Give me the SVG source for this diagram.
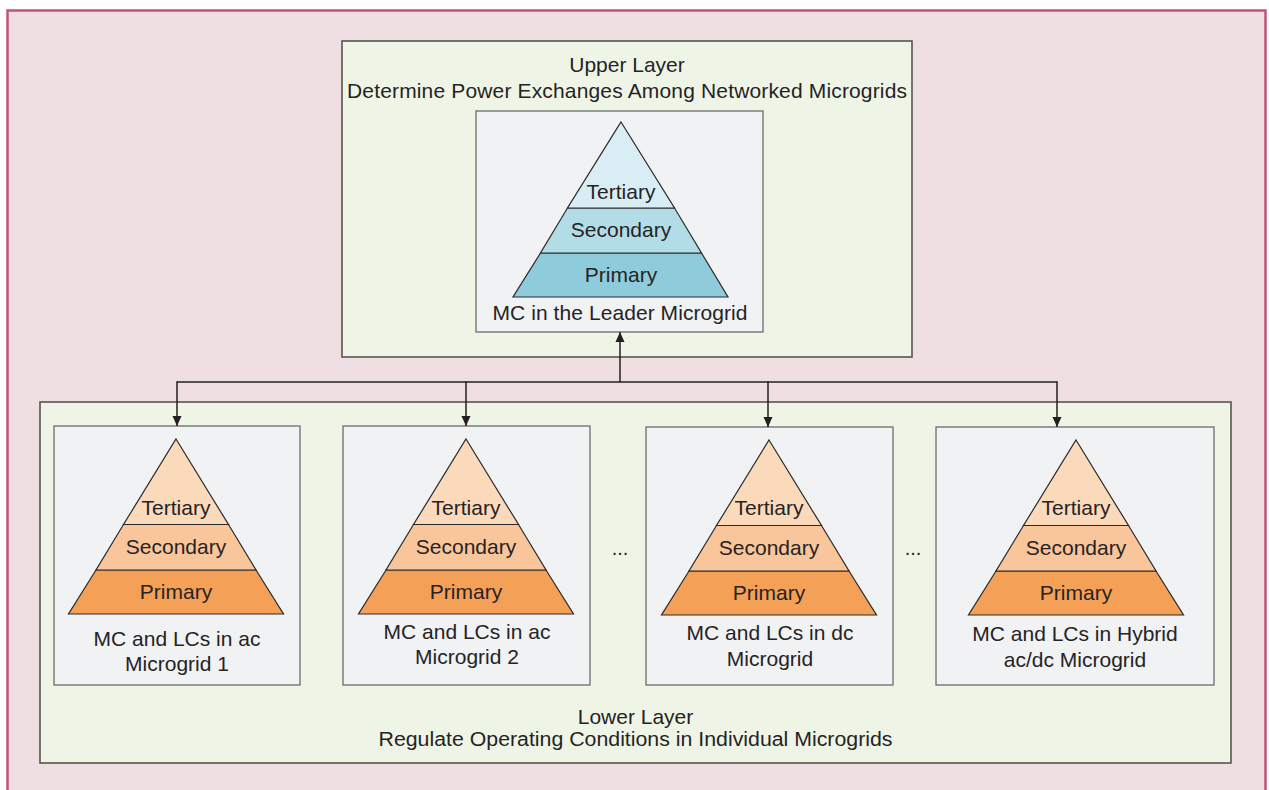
<svg xmlns="http://www.w3.org/2000/svg" width="1269" height="790" viewBox="0 0 1269 790">
  <defs>
    <style>
      .frame { fill: #efdfe3; stroke: #c4537c; stroke-width: 2.5; }
      .layer { fill: #eff5e6; stroke: #58544f; stroke-width: 1.6; }
      .card { fill: #f1f2f4; stroke: #6b6b6b; stroke-width: 1.3; }
      .tier { stroke: #2a2a2a; stroke-width: 1.2; stroke-linejoin: miter; }
      .t3b { fill: #d8eef4; } .t2b { fill: #b2dde7; } .t1b { fill: #8ecbdb; }
      .t3o { fill: #fbd9bb; } .t2o { fill: #f9c59b; } .t1o { fill: #f4a057; }
      text { font-family: "Liberation Sans", Arial, sans-serif; fill: #262324; text-anchor: middle; }
      .big { font-size: 21px; }
      .lbl { font-size: 21px; }
      .low { font-size: 20px; }
      .wire { fill: none; stroke: #231f20; stroke-width: 1.5; }
    </style>
    <marker id="arrow" viewBox="0 0 10 14" refX="10" refY="7" markerWidth="11" markerHeight="14" markerUnits="userSpaceOnUse" orient="auto">
      <path d="M0,2.5 L10,7 L0,11.5 Z" fill="#231f20"/>
    </marker>
    <!-- pyramid outline: apex at (0,0), base 175 below, half-width 107.5 -->
    <g id="pyrOrange">
      <polygon class="tier t1o" points="-80,131 80,131 107.5,175 -107.5,175"/>
      <polygon class="tier t2o" points="-52.5,85.5 52.5,85.5 80,131 -80,131"/>
      <polygon class="tier t3o" points="0,0 52.5,85.5 -52.5,85.5"/>
    </g>
  </defs>

  <!-- outer frame -->
  <rect class="frame" x="7.5" y="10.5" width="1258" height="790"/>

  <!-- upper layer -->
  <g id="upper-layer">
    <rect class="layer" x="342" y="41" width="570" height="316"/>
    <text class="big" x="627" y="72">Upper Layer</text>
    <text class="big" x="627" y="98" textLength="560" lengthAdjust="spacing">Determine Power Exchanges Among Networked Microgrids</text>
  </g>

  <g id="leader-mc">
    <rect class="card" x="476" y="111" width="287" height="221"/>
    <polygon class="tier t1b" points="540.5,253 701.5,253 728,297 513,297"/>
    <polygon class="tier t2b" points="567.5,208 674.5,208 701.5,253 540.5,253"/>
    <polygon class="tier t3b" points="621,122 674.5,208 567.5,208"/>
    <text class="big" x="621" y="199">Tertiary</text>
    <text class="big" x="621" y="237">Secondary</text>
    <text class="big" x="621" y="282">Primary</text>
    <text class="lbl" x="620" y="320" textLength="255" lengthAdjust="spacing">MC in the Leader Microgrid</text>
  </g>

  <!-- lower layer -->
  <g id="lower-layer">
    <rect class="layer" x="40" y="402" width="1191" height="361"/>
    <text class="lbl" x="635.5" y="724">Lower Layer</text>
    <text class="low" x="635.5" y="746" textLength="514" lengthAdjust="spacingAndGlyphs">Regulate Operating Conditions in Individual Microgrids</text>
    <text class="low" x="620" y="555">...</text>
    <text class="low" x="913" y="555">...</text>
  </g>

  <g id="mg-ac-1">
    <rect class="card" x="54" y="426" width="246" height="259"/>
    <use href="#pyrOrange" x="176" y="439"/>
    <text class="big" x="176" y="515">Tertiary</text>
    <text class="big" x="176" y="554">Secondary</text>
    <text class="big" x="176" y="599">Primary</text>
    <text class="lbl" x="177" y="646">MC and LCs in ac</text>
    <text class="lbl" x="177" y="671">Microgrid 1</text>
  </g>

  <g id="mg-ac-2">
    <rect class="card" x="343" y="426" width="247" height="259"/>
    <use href="#pyrOrange" x="466" y="439"/>
    <text class="big" x="466" y="515">Tertiary</text>
    <text class="big" x="466" y="554">Secondary</text>
    <text class="big" x="466" y="599">Primary</text>
    <text class="lbl" x="467" y="639">MC and LCs in ac</text>
    <text class="lbl" x="467" y="664">Microgrid 2</text>
  </g>

  <g id="mg-dc">
    <rect class="card" x="646" y="427" width="247" height="258"/>
    <use href="#pyrOrange" x="769" y="440"/>
    <text class="big" x="769" y="515">Tertiary</text>
    <text class="big" x="769" y="555">Secondary</text>
    <text class="big" x="769" y="600">Primary</text>
    <text class="lbl" x="770" y="640">MC and LCs in dc</text>
    <text class="lbl" x="770" y="666">Microgrid</text>
  </g>

  <g id="mg-hybrid">
    <rect class="card" x="936" y="427" width="278" height="258"/>
    <use href="#pyrOrange" x="1076" y="440"/>
    <text class="big" x="1076" y="515">Tertiary</text>
    <text class="big" x="1076" y="555">Secondary</text>
    <text class="big" x="1076" y="600">Primary</text>
    <text class="lbl" x="1075" y="641">MC and LCs in Hybrid</text>
    <text class="lbl" x="1075" y="667">ac/dc Microgrid</text>
  </g>

  <!-- connectors -->
  <g id="connectors">
    <path class="wire" d="M177,382 H1057"/>
    <path class="wire" d="M620,382 V332" marker-end="url(#arrow)"/>
    <path class="wire" d="M177,381.25 V426" marker-end="url(#arrow)"/>
    <path class="wire" d="M466,381.25 V426" marker-end="url(#arrow)"/>
    <path class="wire" d="M768,381.25 V427" marker-end="url(#arrow)"/>
    <path class="wire" d="M1057,381.25 V427" marker-end="url(#arrow)"/>
  </g>
</svg>
